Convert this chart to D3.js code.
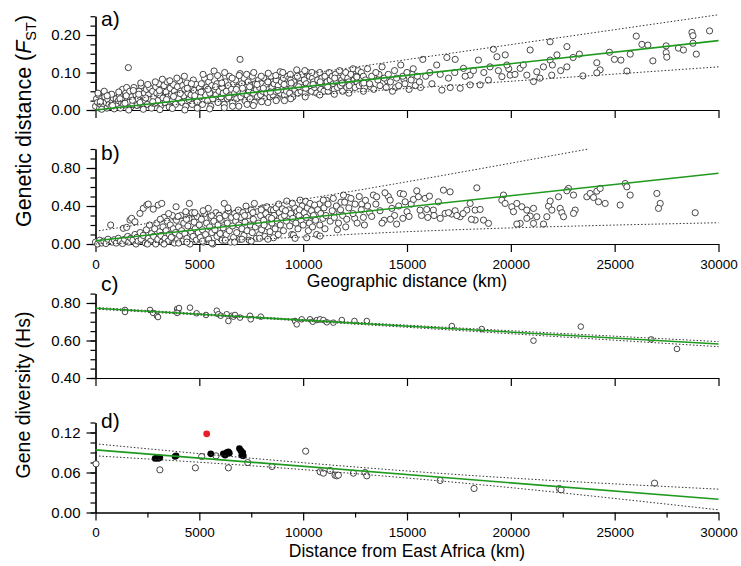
<!DOCTYPE html>
<html lang="en">
<head>
<meta charset="UTF-8">
<title>Genetic distance and gene diversity vs distance</title>
<script src="https://d3js.org/d3.v7.min.js"></script>
<style>
  body { margin: 0; background: #fff; }
  svg { font-family: Arial, "Liberation Sans", sans-serif; }
  .axis path, .axis line { stroke: #000; stroke-width: 1.2; }
  .axis text { fill: #000; font-family: Arial, "Liberation Sans", sans-serif; }
  .ytick text { font-size: 15px; }
  .xtick text { font-size: 13.5px; }
  .title { font-size: 17.5px; fill: #000; }
  .ytitle { font-size: 19.5px; fill: #000; }
  .panel-label { font-size: 21px; fill: #000; }
  .pt { fill: #fff; stroke: #333; stroke-width: 0.9; }
  .fit { fill: none; stroke: #1f9a1f; stroke-width: 1.6; }
  .band { fill: none; stroke: #333; stroke-width: 1; stroke-dasharray: 1.5 2; }
</style>
</head>
<body>
<svg id="chart" width="741" height="566"></svg>
<script>
// x axis ticks (km), shared by all panels
const xTicks = [0, 5000, 10000, 15000, 20000, 25000, 30000];
const xMinorTicks = [2500, 7500, 12500, 17500, 22500, 27500];

// a) FST vs geographic distance
const fstPoints = [
  [0,0.01],[50,0.03],[100,0.02],[150,0.04],[200,0.005],[250,0.015],[300,0.03],[350,0.025],[400,0.01],[450,0.035],[500,0.02],[550,0.005],[600,0.028],[650,0.015],[700,0.04],[750,0.01],[800,0.022],[850,0.032],[900,0.008],[950,0.018],[1000,0.03],
  [1050,0.012],[1100,0.025],[1150,0.04],[1200,0.005],[1250,0.02],[1300,0.055],[1350,0.015],[1400,0.028],[1450,0.045],[1500,0.06],[1550,0.03],[1580,0.113],[1600,0.02],[1650,0.05],[1700,0.008],[1750,0.035],[1800,0.015],[1850,0.06],[1900,0.025],[1950,0.04],[2000,0.012],
  [2050,0.03],[2100,0.05],[2150,0.02],[2200,0.065],[2250,0.038],[2300,0.008],[2350,0.045],[2400,0.025],[2450,0.055],[2500,0.015],[2550,0.04],[2600,0.06],[2650,0.028],[2700,0.005],[2750,0.05],[2800,0.035],[2850,0.018],[2900,0.062],[2950,0.045],[3000,0.025],
  [3050,0.07],[3100,0.04],[3150,0.012],[3200,0.055],[3250,0.032],[3300,0.065],[3350,0.02],[3400,0.048],[3450,0.075],[3500,0.035],[3550,0.008],[3600,0.058],[3650,0.042],[3700,0.025],[3750,0.068],[3800,0.05],[3850,0.015],[3900,0.04],[3950,0.062],[4000,0.03],
  [4050,0.078],[4100,0.05],[4150,0.02],[4200,0.065],[4250,0.038],[4300,0.055],[4350,0.01],[4400,0.072],[4450,0.045],[4500,0.028],[4550,0.06],[4600,0.04],[4650,0.015],[4710,0.08],[4750,0.052],[4800,0.032],[4850,0.068],[4900,0.022],[4950,0.045],[5000,0.058],
  [5050,0.035],[5100,0.07],[5150,0.015],[5200,0.05],[5250,0.085],[5300,0.04],[5350,0.06],[5400,0.025],[5450,0.075],[5500,0.045],[5550,0.01],[5600,0.065],[5650,0.03],[5710,0.104],[5750,0.055],[5800,0.04],[5850,0.07],[5900,0.02],[5950,0.05],[6000,0.085],
  [6050,0.035],[6100,0.06],[6150,0.045],[6200,0.015],[6250,0.075],[6300,0.05],[6350,0.03],[6400,0.065],[6450,0.09],[6500,0.04],[6550,0.055],[6600,0.02],[6650,0.07],[6700,0.045],[6750,0.08],[6800,0.03],[6850,0.06],[6900,0.05],[6960,0.135],[6960,0.097],[7000,0.035],
  [7050,0.07],[7100,0.045],[7150,0.085],[7200,0.025],[7250,0.06],[7300,0.04],[7350,0.075],[7400,0.05],[7450,0.03],[7500,0.065],[7550,0.09],[7600,0.045],[7650,0.02],[7700,0.07],[7750,0.055],[7800,0.035],[7850,0.08],[7900,0.06],[7950,0.04],[8000,0.07],
  [8050,0.05],[8100,0.085],[8150,0.03],[8200,0.065],[8250,0.045],[8300,0.075],[8350,0.055],[8400,0.035],[8450,0.09],[8500,0.06],[8550,0.04],[8600,0.07],[8650,0.05],[8700,0.08],[8750,0.03],[8800,0.065],[8890,0.102],[8900,0.045],[8950,0.075],[9000,0.055],
  [9050,0.085],[9100,0.04],[9150,0.065],[9200,0.05],[9250,0.09],[9300,0.07],[9350,0.045],[9400,0.08],[9450,0.06],[9500,0.035],[9550,0.075],[9600,0.055],[9690,0.107],[9700,0.065],[9750,0.045],[9800,0.085],[9850,0.07],[9900,0.05],[9950,0.095],[10000,0.06],
  [300,0.002],[900,0.003],[1600,0.0],[2300,0.002],[3100,0.001],[3700,0.004],[4300,0.0],[4900,0.005],[5500,0.003],[6200,0.006],[6900,0.01],[7600,0.012],[8300,0.02],[9100,0.025],
  [10050,0.08],[10100,0.045],[10150,0.07],[10200,0.1],[10250,0.055],[10300,0.09],[10350,0.065],[10400,0.05],[10450,0.085],[10500,0.075],[10550,0.06],[10600,0.095],[10650,0.045],[10700,0.08],[10750,0.065],[10800,0.1],[10850,0.055],[10900,0.085],[10950,0.07],[11000,0.05],
  [11050,0.09],[11100,0.065],[11150,0.075],[11200,0.05],[11250,0.1],[11300,0.08],[11350,0.06],[11400,0.09],[11450,0.07],[11500,0.055],[11550,0.095],[11600,0.075],[11650,0.06],[11700,0.085],[11750,0.105],[11800,0.065],[11850,0.08],[11900,0.05],[11950,0.09],[12000,0.07],
  [12050,0.1],[12100,0.06],[12150,0.085],[12200,0.075],[12250,0.055],[12300,0.095],[12350,0.07],[12400,0.11],[12450,0.08],[12500,0.06],[12550,0.09],[12600,0.075],[12650,0.105],[12700,0.065],[12750,0.085],[12800,0.1],[12850,0.07],[12900,0.09],[12950,0.06],[13000,0.08],
  [120,0.045],[420,0.05],[780,0.042],[1120,0.048],[1480,0.038],[1820,0.052],[2180,0.072],[2520,0.068],[2880,0.075],[3220,0.082],[3580,0.078],[3920,0.085],[4280,0.09],[4620,0.07],[5180,0.095],[5520,0.088],[5880,0.092],[6220,0.1],[6580,0.085],[6920,0.092],[7280,0.095],[7620,0.1],[7980,0.09],[8320,0.098],[8680,0.092],[9020,0.1],[9380,0.095],[9720,0.09],[10080,0.105],[10420,0.1],
  [230,0.022],[560,0.038],[820,0.012],[1180,0.03],[1420,0.018],[1780,0.026],[2080,0.042],[2420,0.032],[2760,0.022],[3080,0.052],[3420,0.028],[3760,0.036],[4080,0.044],[4420,0.058],[4780,0.038],[5080,0.048],[5420,0.055],[5780,0.062],[6080,0.072],[6420,0.035],[6780,0.055],[7080,0.058],[7420,0.062],[7780,0.068],[8080,0.058],[8420,0.048],[8780,0.052],[9080,0.068],[9420,0.072],[9780,0.062],
  [10120,0.058],[10480,0.068],[10820,0.075],[11180,0.062],[11520,0.085],[11880,0.072],[12220,0.065],[12580,0.088],[12920,0.072],[13250,0.062],[13650,0.095],[14050,0.078],[14450,0.06],[14850,0.082],[15250,0.095],[15650,0.06],
  [6600,0.01],[7300,0.015],[8000,0.022],[8700,0.025],[9400,0.03],[10100,0.035],[10800,0.04],[11500,0.042],[12200,0.045],[12900,0.05],
  [13100,0.11],[13200,0.07],[13300,0.09],[13400,0.055],[13500,0.1],[13600,0.08],[13700,0.065],[13800,0.115],[13900,0.085],[14000,0.06],
  [14100,0.095],[14200,0.075],[14300,0.05],[14400,0.105],[14500,0.085],[14600,0.065],[14700,0.12],[14800,0.09],[14900,0.07],[15000,0.1],[15100,0.055],[15200,0.08],[15300,0.11],[15400,0.065],[15500,0.09],[15600,0.075],[15760,0.135],
  [15900,0.09],[16100,0.1],[16200,0.07],[16430,0.12],[16680,0.053],[16920,0.14],[17320,0.135],[17080,0.06],[17560,0.058],[18040,0.067],[18520,0.067],[17720,0.111],[18040,0.093],[18440,0.133],
  [16600,0.095],[17000,0.085],[17300,0.1],[17800,0.09],[18200,0.105],[18700,0.1],[19000,0.115],[19400,0.105],[19900,0.11],
  [19160,0.162],[19330,0.142],[19730,0.147],[19810,0.12],[19970,0.093],[19570,0.089],[18920,0.08],
  [20200,0.095],[20450,0.111],[20600,0.12],[20770,0.093],[20930,0.16],[21090,0.076],[21250,0.102],[21400,0.085],[21570,0.115],[21890,0.182],[21890,0.133],[21970,0.093],[22000,0.12],[22220,0.147],[22400,0.105],[22700,0.169],[22700,0.115],[23000,0.14],[23300,0.149],[23470,0.091],
  [24140,0.126],[24300,0.107],[24140,0.099],[24750,0.154],[24990,0.135],[25300,0.133],[25590,0.104],[25750,0.149],
  [26040,0.197],[26310,0.175],[26600,0.173],[26840,0.131],[27480,0.171],[27480,0.153],[27510,0.141],[28070,0.165],[28310,0.16],[28720,0.207],[28770,0.198],[28770,0.178],[28930,0.149],[29570,0.211]
];
const fstFit = [[0, 0.0], [30000, 0.185]];
const fstUpper = [[0, 0.015], [30000, 0.254]];
const fstLower = [[0, 0.0], [30000, 0.115]];

// b) second genetic distance measure vs geographic distance
const gdPoints = [
  [0,0.02],[100,0.0],[200,0.04],[300,0.01],[400,0.03],[500,0.005],[600,0.05],[730,0.20],[800,0.02],[900,0.045],[1000,0.01],
  [1100,0.06],[1200,0.03],[1340,0.165],[1300,0.005],[1400,0.05],[1500,0.175],[1550,0.08],[1600,0.02],[1660,0.252],[1700,0.06],[1740,0.27],[1800,0.04],[1900,0.234],[1900,0.1],[1950,0.0],[2000,0.07],
  [2050,0.03],[2140,0.322],[2150,0.12],[2200,0.05],[2300,0.375],[2300,0.09],[2400,0.01],[2470,0.41],[2450,0.15],[2540,0.42],[2550,0.06],[2600,0.2],[2650,0.03],[2700,0.11],[2780,0.367],[2800,0.08],[2850,0.16],[2900,0.0],[2950,0.22],[3020,0.41],[3000,0.05],[3100,0.13],[3190,0.427],
  [3150,0.09],[3200,0.02],[3250,0.18],[3300,0.28],[3350,0.06],[3400,0.14],[3450,0.24],[3500,0.03],[3550,0.1],[3600,0.2],[3650,0.07],[3700,0.3],[3750,0.16],[3800,0.01],[3880,0.392],[3850,0.12],[3900,0.25],[3950,0.05],[4000,0.18],
  [4050,0.09],[4100,0.3],[4150,0.14],[4200,0.03],[4250,0.22],[4300,0.11],[4350,0.34],[4400,0.06],[4450,0.19],[4520,0.427],[4500,0.27],[4550,0.0],[4600,0.13],[4650,0.33],[4700,0.08],[4750,0.23],[4800,0.16],[4850,0.04],[4900,0.29],[4950,0.12],[5000,0.2],
  [5050,0.07],[5100,0.26],[5150,0.15],[5200,0.02],[5250,0.32],[5300,0.1],[5350,0.22],[5430,0.375],[5450,0.05],[5500,0.18],[5550,0.28],[5600,0.12],[5650,0.0],[5700,0.24],[5750,0.15],[5800,0.33],[5850,0.08],[5900,0.2],[5950,0.3],[6000,0.11],
  [6050,0.25],[6100,0.04],[6200,0.427],[6150,0.17],[6250,0.3],[6300,0.1],[6350,0.22],[6400,0.35],[6450,0.14],[6500,0.02],[6550,0.28],[6600,0.19],[6650,0.07],[6700,0.32],[6750,0.24],[6800,0.12],[6880,0.357],[6900,0.2],[6950,0.05],[7000,0.28],
  [7050,0.16],[7100,0.33],[7150,0.09],[7250,0.399],[7200,0.23],[7300,0.14],[7350,0.3],[7400,0.04],[7450,0.2],[7500,0.36],[7550,0.12],[7650,0.427],[7600,0.26],[7700,0.18],[7750,0.06],[7800,0.34],[7850,0.22],[7900,0.1],[7950,0.3],[8000,0.15],
  [8050,0.38],[8100,0.25],[8150,0.08],[8250,0.392],[8200,0.32],[8300,0.18],[8350,0.28],[8400,0.13],[8450,0.36],[8500,0.22],[8570,0.357],[8570,0.066],[8600,0.3],[8650,0.16],[8700,0.38],[8750,0.24],[8800,0.1],[8850,0.33],[8900,0.2],[8950,0.28],[9000,0.37],
  [9050,0.14],[9100,0.3],[9210,0.452],[9200,0.24],[9300,0.36],[9350,0.19],[9400,0.32],[9450,0.1],[9530,0.094],[9500,0.27],[9610,0.06],[9600,0.38],[9650,0.22],[9700,0.34],[9750,0.16],[9850,0.462],[9800,0.3],[9900,0.25],[9950,0.4],[10000,0.2],
  [5150,0.03],[5600,0.01],[6250,0.04],[6700,0.02],[7050,0.05],[7500,0.03],[7900,0.06],[8300,0.05],[3300,0.0],[4000,0.01],[2500,0.0],[4400,0.02],
  [3120,0.26],[3520,0.32],[3980,0.29],[4380,0.26],[4780,0.33],[5180,0.35],[5580,0.3],[5980,0.27],[6380,0.38],[6780,0.29],[7180,0.3],[7580,0.33],[7980,0.36],
  [8120,0.2],[8480,0.27],[8820,0.42],[9150,0.35],[9480,0.43],[9820,0.36],[10120,0.45],[10480,0.29],[10780,0.42],[11120,0.46],[11480,0.33],[11820,0.44],[12150,0.49],[12480,0.27],[12820,0.42],[10250,0.14],[10650,0.1],[11050,0.16],[11650,0.15],[12050,0.18],[12950,0.2],
  [10050,0.33],[10170,0.066],[10150,0.28],[10200,0.38],[10330,0.427],[10300,0.22],[10400,0.35],[10450,0.18],[10500,0.3],[10550,0.41],[10600,0.25],[10700,0.36],[10815,0.084],[10800,0.2],[10850,0.32],[10970,0.462],[10950,0.27],[11000,0.38],
  [11100,0.3],[11200,0.42],[11300,0.24],[11450,0.48],[11400,0.35],[11500,0.28],[11600,0.4],[11700,0.22],[11800,0.36],[11940,0.515],[11900,0.3],[12000,0.44],
  [12100,0.26],[12200,0.38],[12300,0.48],[12400,0.32],[12500,0.42],[12600,0.22],[12700,0.5],[12800,0.36],[12900,0.28],[13000,0.46],[13100,0.4],[13200,0.33],
  [13300,0.29],[13500,0.42],[13700,0.35],[13900,0.25],[14100,0.5],[14400,0.3],[14600,0.4],[14800,0.27],[15000,0.34],[15200,0.42],[13800,0.22],[14500,0.21],[14200,0.26],[15100,0.29],[15700,0.3],[16000,0.28],
  [13380,0.515],[13540,0.497],[13940,0.539],[14190,0.462],[14270,0.375],[14670,0.532],[14830,0.525],[14910,0.444],[15310,0.469],[15470,0.56],[15550,0.497],[15870,0.48],[16080,0.504],[15630,0.357],[15950,0.364],[16270,0.357],[16510,0.444],[16755,0.567],[17076,0.549],[16835,0.322],[17157,0.315],[17317,0.35],[17558,0.287],[17879,0.357],[18040,0.427],[18362,0.591],[18281,0.357],[18522,0.364],[18281,0.252],[18683,0.252],[18924,0.217],
  [16300,0.3],[16600,0.27],[17000,0.33],[17400,0.3],[17700,0.32],[18100,0.26],
  [19646,0.515],[19566,0.462],[19727,0.427],[20048,0.392],[20289,0.427],[20128,0.34],[20530,0.392],[20771,0.357],[21092,0.375],[20931,0.294],[20771,0.27],[21252,0.287],[20449,0.217],[20289,0.21],[21092,0.217],[21573,0.21],[21734,0.287],[21814,0.399],[21894,0.452],[21975,0.357],[22296,0.497],[22376,0.375],[22456,0.329],[22537,0.287],[22777,0.585],[22697,0.56],[23018,0.515],[23098,0.357],[23018,0.322],[23660,0.497],[23820,0.532],[23981,0.49],[24142,0.556],[24222,0.444],[24543,0.427],[24302,0.585],[25265,0.41],[25506,0.637],[25587,0.602],[25747,0.515],[27032,0.532],[27193,0.427],[27111,0.375],[28878,0.329]
];
const gdFit = [[0, 0.035], [30000, 0.745]];
const gdUpper = [[0, 0.135], [10000, 0.47], [23740, 1.0]];
const gdLower = [[0, 0.0], [8700, 0.06], [13220, 0.112], [30000, 0.224]];

// c) gene diversity (Hs) vs distance from East Africa
const hsPoints = [
  [1420,0.763],[1420,0.752],[2625,0.763],[2770,0.747],[2960,0.731],[3010,0.725],[3930,0.768],[3980,0.757],[4020,0.773],[3930,0.747],[4550,0.775],[4870,0.745],[5320,0.736],
  [5840,0.759],[5915,0.740],[6030,0.732],[6320,0.740],[6400,0.704],[6560,0.732],[6640,0.727],[6720,0.736],[6960,0.722],[7440,0.732],[7475,0.713],[7960,0.727],
  [9610,0.704],[9690,0.686],[9930,0.713],[10330,0.713],[10460,0.700],[10660,0.709],[10815,0.713],[10975,0.709],[11140,0.697],[11455,0.695],[11860,0.709],[12470,0.704],[13065,0.704],
  [17160,0.677],[18600,0.661],[21090,0.599],[23370,0.674],[26760,0.606],[28000,0.555]
];
const hsFit = [[0, 0.772], [30000, 0.581]];
const hsUpper = [[0, 0.776], [10000, 0.712], [20000, 0.652], [30000, 0.594]];
const hsLower = [[0, 0.767], [10000, 0.704], [20000, 0.636], [30000, 0.567]];

// d) gene diversity of a second marker set vs distance from East Africa
const gdivOpen = [
  [25,0.073],[3100,0.064],[4810,0.067],[5110,0.084],[5805,0.085],[6400,0.067],[7330,0.075],[8500,0.069],[10120,0.092],
  [10815,0.061],[10975,0.059],[11295,0.063],[11535,0.056],[11620,0.055],[11695,0.056],[12420,0.059],[12980,0.060],[13065,0.055],
  [16595,0.048],[18230,0.036],[22340,0.036],[22420,0.034],[26920,0.044]
];
const gdivFilled = [
  [2870,0.081],[2950,0.082],[3020,0.081],[3100,0.082],[3830,0.084],[3880,0.085],[5550,0.088],
  [6155,0.088],[6240,0.086],[6320,0.090],[6400,0.091],[6445,0.089],[6930,0.096],[6995,0.093],[7090,0.090],[7040,0.086],[7120,0.085]
];
const gdivRed = [[5355, 0.118]];
const gdivFit = [[0, 0.094], [30000, 0.0198]];
const gdivUpper = [[0, 0.103], [8000, 0.080], [16000, 0.060], [30000, 0.035]];
const gdivLower = [[0, 0.085], [8000, 0.069], [16000, 0.049], [30000, 0.004]];

const svg = d3.select('#chart');
const x = d3.scaleLinear().domain([0, 30000]).range([95.5, 718.5]);

const panels = [
  { label: 'a)', labelY: 26, domain: [0, 0.25], range: [110, 16.25], major: [0, 0.1, 0.2], minor: d3.range(0, 0.2501, 0.025),
    points: fstPoints, fit: fstFit, bands: [fstUpper, fstLower], xLabels: false },
  { label: 'b)', labelY: 160, domain: [0, 1.0], range: [244, 149], major: [0, 0.4, 0.8], minor: d3.range(0, 1.001, 0.1),
    points: gdPoints, fit: gdFit, bands: [gdUpper, gdLower], xLabels: true },
  { label: 'c)', labelY: 291, domain: [0.4, 0.85], range: [378, 293.6], major: [0.4, 0.6, 0.8], minor: d3.range(0.4, 0.8501, 0.05),
    points: hsPoints, fit: hsFit, bands: [hsUpper, hsLower], xLabels: false, r: 2.8 },
  { label: 'd)', labelY: 428, domain: [0, 0.135], range: [512.5, 422.5], major: [0, 0.06, 0.12], minor: d3.range(0, 0.1351, 0.015),
    points: gdivOpen, fit: gdivFit, bands: [gdivUpper, gdivLower], xLabels: true, xMinor: true }
];

panels.forEach(p => {
  const y = d3.scaleLinear().domain(p.domain).range(p.range);
  const g = svg.append('g');
  const y0 = p.range[0];

  // y axis: minor then major ticks
  g.append('g').attr('class', 'axis ytick').attr('transform', 'translate(95.5,0)')
    .call(d3.axisLeft(y).tickValues(p.minor).tickSize(5).tickSizeOuter(0).tickFormat(''));
  g.append('g').attr('class', 'axis ytick').attr('transform', 'translate(95.5,0)')
    .call(d3.axisLeft(y).tickValues(p.major).tickSize(9).tickSizeOuter(0).tickPadding(6).tickFormat(d3.format('.2f')));

  // x axis
  if (p.xMinor) {
    g.append('g').attr('class', 'axis xtick').attr('transform', `translate(0,${y0})`)
      .call(d3.axisBottom(x).tickValues(xMinorTicks).tickSize(5).tickSizeOuter(0).tickFormat(''));
  }
  g.append('g').attr('class', 'axis xtick').attr('transform', `translate(0,${y0})`)
    .call(d3.axisBottom(x).tickValues(xTicks).tickSize(8).tickSizeOuter(0).tickPadding(7)
      .tickFormat(p.xLabels ? d3.format('d') : ''));

  // points
  g.append('g').selectAll('circle').data(p.points).enter().append('circle')
    .attr('class', 'pt')
    .attr('cx', d => x(d[0])).attr('cy', d => y(d[1])).attr('r', p.r || 3.1);

  if (p.label === 'd)') {
    g.append('g').selectAll('circle').data(gdivFilled).enter().append('circle')
      .attr('cx', d => x(d[0])).attr('cy', d => y(d[1])).attr('r', 3.3).attr('fill', '#000');
    g.append('g').selectAll('circle').data(gdivRed).enter().append('circle')
      .attr('cx', d => x(d[0])).attr('cy', d => y(d[1])).attr('r', 3.4).attr('fill', '#e8202a');
  }

  const line = d3.line().x(d => x(d[0])).y(d => y(d[1])).curve(d3.curveMonotoneX);
  p.bands.forEach(b => g.append('path').attr('class', 'band').attr('d', line(b)));
  g.append('path').attr('class', 'fit').attr('d', line(p.fit));

  g.append('text').attr('class', 'panel-label').attr('x', 101).attr('y', p.labelY).text(p.label);
});

// axis titles
svg.append('text').attr('class', 'title').attr('x', 407).attr('y', 287)
  .attr('text-anchor', 'middle').text('Geographic distance (km)');
svg.append('text').attr('class', 'title').attr('x', 407).attr('y', 557)
  .attr('text-anchor', 'middle').text('Distance from East Africa (km)');

const t1 = svg.append('text').attr('class', 'ytitle').style('font-size', '21.5px')
  .attr('transform', 'translate(31,121) rotate(-90)').attr('text-anchor', 'middle');
t1.append('tspan').text('Genetic distance (');
t1.append('tspan').attr('font-style', 'italic').text('F');
t1.append('tspan').attr('font-size', '14.5px').attr('dy', 5).text('ST');
t1.append('tspan').attr('dy', -5).text(')');

svg.append('text').attr('class', 'ytitle')
  .attr('transform', 'translate(30,395) rotate(-90)').attr('text-anchor', 'middle')
  .text('Gene diversity (Hs)');
</script>
</body>
</html>
